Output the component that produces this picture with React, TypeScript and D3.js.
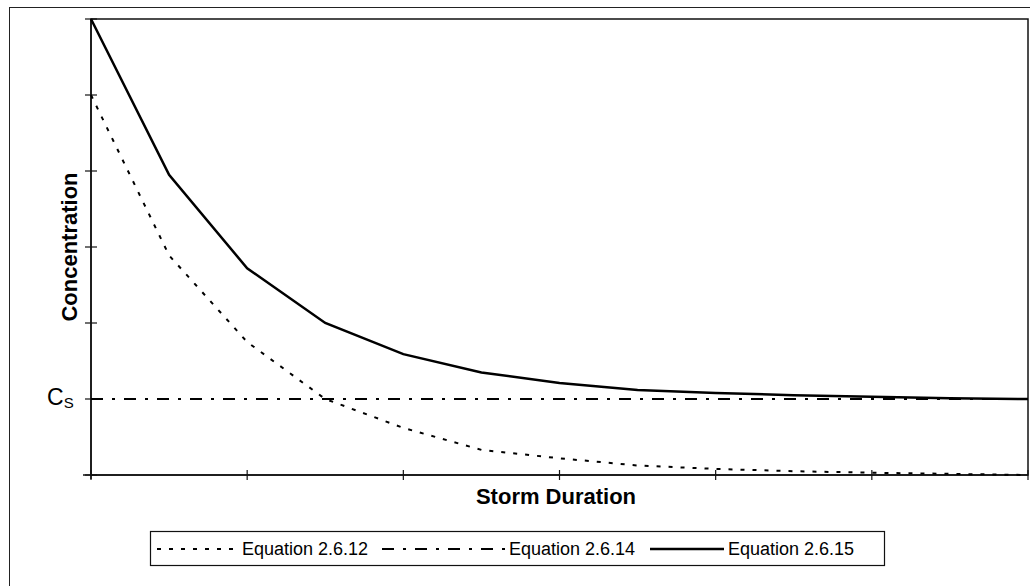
import React, { useRef, useEffect } from 'react';
import * as d3 from 'd3';

// storm duration steps (x) and concentration values
const durations = [0, 1, 2, 3, 4, 5, 6, 7, 8, 9, 10, 11, 12];
const eq2612 = [5.0, 2.89, 1.75, 1.0, 0.62, 0.33, 0.22, 0.125, 0.08, 0.05, 0.03, 0.015, 0.0];
const eq2614 = [1, 1, 1, 1, 1, 1, 1, 1, 1, 1, 1, 1, 1];
const eq2615 = [6.0, 3.95, 2.72, 2.0, 1.59, 1.35, 1.21, 1.12, 1.08, 1.05, 1.03, 1.01, 1.0];
const xTicks = [0, 2, 4, 6, 8, 10, 12];
const yTicks = [0, 1, 2, 3, 4, 5, 6];
const csValue = 1;
const seriesNames = ['Equation 2.6.12', 'Equation 2.6.14', 'Equation 2.6.15'];

const width = 1030;
const height = 586;

const App: React.FC = () => {
  const svgRef = useRef<SVGSVGElement>(null);

  useEffect(() => {
    if (!svgRef.current) return;
    const svg = d3.select(svgRef.current);
    svg.selectAll('*').remove();

    const margin = { top: 19, right: 2, bottom: 111, left: 91 };
    const innerWidth = width - margin.left - margin.right;
    const innerHeight = height - margin.top - margin.bottom;

    const xScale = d3.scaleLinear().domain([0, 12]).range([0, innerWidth]);
    const yScale = d3.scaleLinear().domain([0, 6]).range([innerHeight, 0]);

    // outer chart frame
    svg.append('rect')
      .attr('x', 9.5).attr('y', 7.5)
      .attr('width', 1100).attr('height', 700)
      .attr('fill', 'none')
      .attr('stroke', '#222')
      .attr('stroke-width', 1);

    const g = svg.append('g')
      .attr('transform', `translate(${margin.left},${margin.top})`);

    // plot area border
    g.append('rect')
      .attr('width', innerWidth)
      .attr('height', innerHeight)
      .attr('fill', 'none')
      .attr('stroke', '#111')
      .attr('stroke-width', 1.5);

    // axes
    g.append('line')
      .attr('x1', 0).attr('x2', 0)
      .attr('y1', 0).attr('y2', innerHeight + 4)
      .attr('stroke', '#111').attr('stroke-width', 1.5);
    g.append('line')
      .attr('x1', -8).attr('x2', innerWidth)
      .attr('y1', innerHeight).attr('y2', innerHeight)
      .attr('stroke', '#111').attr('stroke-width', 1.5);

    g.selectAll('.xtick')
      .data(xTicks)
      .enter()
      .append('line')
      .attr('class', 'xtick')
      .attr('x1', d => xScale(d)).attr('x2', d => xScale(d))
      .attr('y1', innerHeight - 5).attr('y2', innerHeight + 5)
      .attr('stroke', '#111').attr('stroke-width', 1.2);

    g.selectAll('.ytick')
      .data(yTicks)
      .enter()
      .append('line')
      .attr('class', 'ytick')
      .attr('x1', -6).attr('x2', 6)
      .attr('y1', d => yScale(d)).attr('y2', d => yScale(d))
      .attr('stroke', '#111').attr('stroke-width', 1.2);

    const line = d3.line<number>()
      .x((_, i) => xScale(durations[i]))
      .y(d => yScale(d));

    const styles = [
      { data: eq2612, dash: '4,8', w: 2 },
      { data: eq2614, dash: '12,9,3,9', w: 2 },
      { data: eq2615, dash: null as string | null, w: 2.5 },
    ];

    styles.forEach(s => {
      g.append('path')
        .datum(s.data)
        .attr('d', line)
        .attr('fill', 'none')
        .attr('stroke', '#000')
        .attr('stroke-width', s.w)
        .attr('stroke-dasharray', s.dash);
    });

    // Cs label
    const cs = svg.append('text')
      .attr('x', 47)
      .attr('y', margin.top + yScale(csValue) + 6)
      .attr('font-family', 'Arial, "Liberation Sans", sans-serif')
      .attr('font-size', 23)
      .attr('fill', '#000')
      .text('C');
    cs.append('tspan')
      .attr('font-size', 15)
      .attr('dy', 3)
      .text('S');

    // axis titles
    svg.append('text')
      .attr('transform', `translate(77,${margin.top + innerHeight / 2}) rotate(-90)`)
      .attr('text-anchor', 'middle')
      .attr('font-family', 'Arial, "Liberation Sans", sans-serif')
      .attr('font-weight', 'bold')
      .attr('font-size', 22)
      .text('Concentration');

    svg.append('text')
      .attr('x', 556)
      .attr('y', 504)
      .attr('text-anchor', 'middle')
      .attr('font-family', 'Arial, "Liberation Sans", sans-serif')
      .attr('font-weight', 'bold')
      .attr('font-size', 22)
      .text('Storm Duration');

    // legend
    const legend = svg.append('g');
    legend.append('rect')
      .attr('x', 150.5).attr('y', 531.5)
      .attr('width', 734).attr('height', 34)
      .attr('fill', 'none')
      .attr('stroke', '#111')
      .attr('stroke-width', 1.2);

    const items = [
      { x1: 157, x2: 238, tx: 242 },
      { x1: 382, x2: 505, tx: 509 },
      { x1: 650, x2: 724, tx: 728 },
    ];
    items.forEach((it, i) => {
      legend.append('line')
        .attr('x1', it.x1).attr('x2', it.x2)
        .attr('y1', 549).attr('y2', 549)
        .attr('stroke', '#000')
        .attr('stroke-width', styles[i].w)
        .attr('stroke-dasharray', styles[i].dash);
      legend.append('text')
        .attr('x', it.tx)
        .attr('y', 555)
        .attr('font-family', 'Arial, "Liberation Sans", sans-serif')
        .attr('font-size', 18)
        .text(seriesNames[i]);
    });
  }, []);

  return (
    <svg
      ref={svgRef}
      width={width}
      height={height}
      style={{ position: 'absolute', left: 0, top: 0, background: '#fff' }}
    />
  );
};

export default App;
